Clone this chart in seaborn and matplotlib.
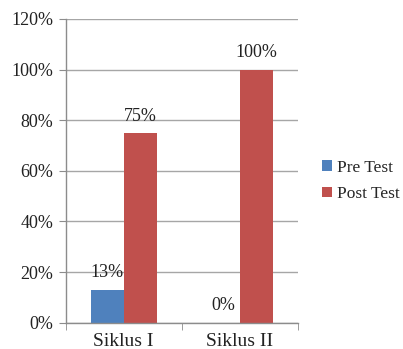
import matplotlib
matplotlib.use("Agg")
import matplotlib.pyplot as plt
import seaborn as sns
import pandas as pd
from matplotlib.ticker import FuncFormatter, FixedLocator

categories = ["Siklus I", "Siklus II"]
pre_test = [13, 0]
post_test = [75, 100]
series_names = ["Pre Test", "Post Test"]
y_ticks = [0, 20, 40, 60, 80, 100, 120]

df = pd.DataFrame({
    "Siklus": categories * 2,
    "Nilai": pre_test + post_test,
    "Tes": [series_names[0]] * len(categories) + [series_names[1]] * len(categories),
})

sns.set_style("white")
plt.rcParams["font.family"] = ["Liberation Serif", "DejaVu Serif"]

fig = plt.figure(figsize=(4.03, 3.49), dpi=100)
ax = fig.add_axes([0.163, 0.0754, 0.576, 0.8702])

palette = {"Pre Test": "#4F81BD", "Post Test": "#C0504D"}
sns.barplot(data=df, x="Siklus", y="Nilai", hue="Tes", palette=palette,
            width=0.57, gap=0, ax=ax, saturation=1, legend=True, linewidth=0)

for cont in ax.containers:
    ax.bar_label(cont, labels=[f"{v:.0f}%" for v in cont.datavalues],
                 padding=6, fontsize=13, color="#222222")

ax.set_ylim(0, 120)
ax.set_xlim(-0.5, 1.5)
ax.yaxis.set_major_locator(FixedLocator(y_ticks))
ax.yaxis.set_major_formatter(FuncFormatter(lambda v, p: f"{v:.0f}%"))
ax.grid(axis="y", color="#A6A6A6", linewidth=1)
ax.set_axisbelow(True)
ax.set_xlabel("")
ax.set_ylabel("")

for s in ["top", "right"]:
    ax.spines[s].set_visible(False)
for s in ["left", "bottom"]:
    ax.spines[s].set_color("#8C8C8C")
    ax.spines[s].set_linewidth(1)

ax.tick_params(axis="y", left=True, length=5, color="#8C8C8C", labelsize=13, pad=4, labelcolor="#222222")
ax.tick_params(axis="x", bottom=False, labelsize=14, pad=4, labelcolor="#222222")
ax.set_xticks([-0.5, 0.5, 1.5], minor=True)
ax.tick_params(axis="x", which="minor", bottom=True, length=5, color="#8C8C8C")

handles, labels = ax.get_legend_handles_labels()
ax.legend(handles, labels, loc="center left", bbox_to_anchor=(1.105, 0.467),
          frameon=False, fontsize=12.5, handlelength=0.55, handleheight=0.55,
          handletextpad=0.3, labelspacing=0.6, borderaxespad=0, borderpad=0)

fig.savefig("out.png", dpi=100)
